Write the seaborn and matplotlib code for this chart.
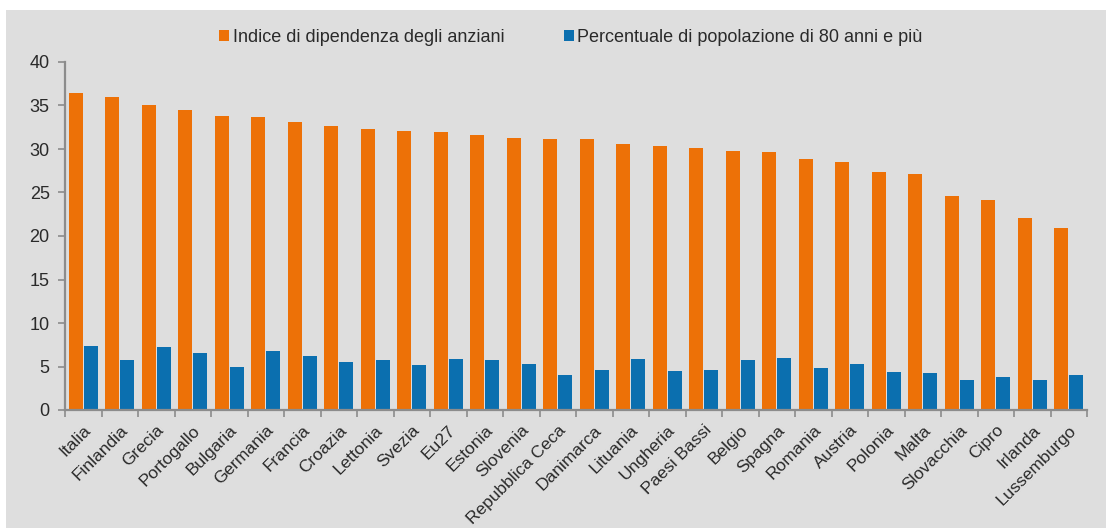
import matplotlib
matplotlib.use("Agg")
import matplotlib.pyplot as plt
from matplotlib.patches import Rectangle
import seaborn as sns
import pandas as pd

# Paesi ordinati per indice di dipendenza degli anziani
paesi = [
    "Italia", "Finlandia", "Grecia", "Portogallo", "Bulgaria", "Germania",
    "Francia", "Croazia", "Lettonia", "Svezia", "Eu27", "Estonia", "Slovenia",
    "Repubblica Ceca", "Danimarca", "Lituania", "Ungheria", "Paesi Bassi",
    "Belgio", "Spagna", "Romania", "Austria", "Polonia", "Malta",
    "Slovacchia", "Cipro", "Irlanda", "Lussemburgo",
]
indice_dipendenza = [
    36.4, 36.0, 35.1, 34.5, 33.8, 33.7, 33.1, 32.6, 32.3, 32.1, 32.0, 31.6,
    31.3, 31.1, 31.1, 30.6, 30.3, 30.1, 29.8, 29.6, 28.8, 28.5, 27.4, 27.1,
    24.6, 24.1, 22.1, 20.9,
]
quota_80_piu = [
    7.4, 5.7, 7.2, 6.6, 4.9, 6.8, 6.2, 5.5, 5.8, 5.2, 5.9, 5.8, 5.3, 4.0,
    4.6, 5.9, 4.5, 4.6, 5.7, 6.0, 4.8, 5.3, 4.4, 4.2, 3.4, 3.8, 3.4, 4.0,
]
serie = ["Indice di dipendenza degli anziani",
         "Percentuale di popolazione di 80 anni e più"]
y_ticks = [0, 5, 10, 15, 20, 25, 30, 35, 40]

ARANCIO = "#ED7107"
BLU = "#0B6FAF"
SFONDO = "#DEDEDE"
ASSE = "#8C8C8C"
TESTO = "#2A2A2A"

df = pd.DataFrame({
    "paese": paesi * 2,
    "valore": indice_dipendenza + quota_80_piu,
    "serie": [serie[0]] * len(paesi) + [serie[1]] * len(paesi),
})

sns.set_theme(style="white")
plt.rcParams["font.family"] = ["Liberation Sans", "DejaVu Sans"]

fig = plt.figure(figsize=(11.09, 5.30), dpi=100, facecolor="white")
# pannello grigio di sfondo con sottile cornice bianca
fig.patches.append(Rectangle((6 / 1109, 2 / 530), 1100 / 1109, 518 / 530,
                             transform=fig.transFigure, facecolor=SFONDO,
                             edgecolor="none", zorder=-10))

ax = fig.add_axes([65 / 1109, 1 - 410 / 530, (1087 - 65) / 1109, (410 - 62) / 530])
ax.set_facecolor("none")
ax.set_zorder(1)

sns.barplot(data=df, x="paese", y="valore", hue="serie", order=paesi,
            hue_order=serie, palette=[ARANCIO, BLU], saturation=1,
            width=0.8, gap=0.04, linewidth=0, ax=ax)

ax.set_xlim(-0.5, len(paesi) - 0.5)
ax.set_ylim(0, 40)
ax.set_yticks(y_ticks)
ax.set_xlabel("")
ax.set_ylabel("")

for s in ("top", "right"):
    ax.spines[s].set_visible(False)
for s in ("left", "bottom"):
    ax.spines[s].set_color(ASSE)
    ax.spines[s].set_linewidth(1.6)

ax.set_xticks(range(len(paesi)))
ax.set_xticklabels(paesi, rotation=45, ha="right", rotation_mode="anchor",
                   fontsize=12.5, color=TESTO)
ax.set_xticks([i - 0.5 for i in range(len(paesi) + 1)], minor=True)
ax.tick_params(axis="x", which="major", length=0, pad=9)
ax.tick_params(axis="x", which="minor", length=5, width=1.2, color=ASSE,
               direction="out", bottom=True)
ax.tick_params(axis="y", length=5, width=1.2, color=ASSE, direction="out",
               left=True, labelsize=13, labelcolor=TESTO, pad=6)

handles, labels = ax.get_legend_handles_labels()
for h in handles:
    h.set_edgecolor("none")
leg = ax.get_legend()
if leg is not None:
    leg.remove()
fig.legend(handles, labels, loc="center", bbox_to_anchor=(571 / 1109, 1 - 37 / 530),
           ncol=2, frameon=False, fontsize=13, handlelength=0.55,
           handleheight=0.55, handletextpad=0.2, columnspacing=3.3,
           labelcolor=TESTO)

fig.savefig("out.png", dpi=100, facecolor="white")
